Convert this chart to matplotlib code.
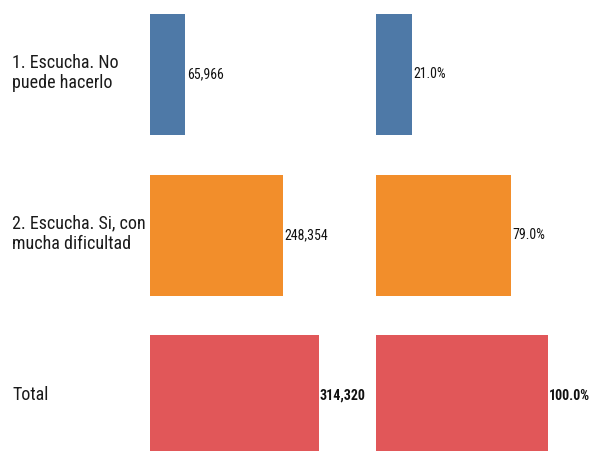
import matplotlib
matplotlib.use("Agg")
import matplotlib.pyplot as plt

categories = ["1. Escucha. No\npuede hacerlo", "2. Escucha. Si, con\nmucha dificultad", "Total"]
counts = [65966, 248354, 314320]
percents = [21.0, 79.0, 100.0]
count_labels = ["65,966", "248,354", "314,320"]
pct_labels = ["21.0%", "79.0%", "100.0%"]
colors = ["#4e79a7", "#f28e2b", "#e15759"]

W, H = 592, 451
fig = plt.figure(figsize=(W / 100, H / 100), dpi=100)
font = ["Roboto Condensed", "Open Sans", "DejaVu Sans"]

axw = 190
ax1 = fig.add_axes([150 / W, 0, axw / W, 1])
ax2 = fig.add_axes([376 / W, 0, axw / W, 1])

pitch = 160.8
top = -74.3 / pitch
bottom = (H - 74.3) / pitch
ypos = list(range(len(categories)))

ax1.barh(ypos, counts, height=0.752, color=colors)
ax1.set_xlim(0, 314320 * axw / 168.5)
ax2.barh(ypos, percents, height=0.752, color=colors)
ax2.set_xlim(0, 100 * axw / 171.5)

for ax, vals, labs in ((ax1, counts, count_labels), (ax2, percents, pct_labels)):
    ax.set_ylim(bottom, top)
    ax.axis("off")
    for i, (v, l) in enumerate(zip(vals, labs)):
        ax.annotate(l, (v, i), xytext=(1, 0), textcoords="offset points",
                    ha="left", va="center", fontsize=10, family=font,
                    fontweight="bold" if i == len(vals) - 1 else "normal",
                    color="#111111")

for i, c in enumerate(categories):
    y_frac = 1 - (73 + i * pitch) / H
    fig.text(12 / W, y_frac, c, ha="left", va="center", fontsize=13,
             family=font, color="#1a1a1a", linespacing=1.2)

fig.savefig("out.png", dpi=100)
